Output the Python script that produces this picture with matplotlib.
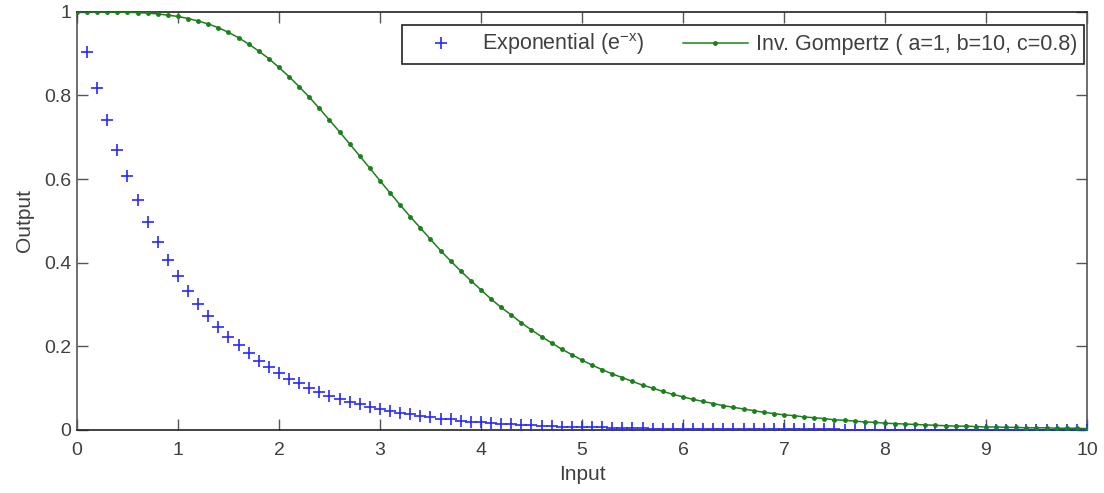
import matplotlib
matplotlib.use("Agg")
import matplotlib.pyplot as plt

# ── Data ──────────────────────────────────────────────────────────────────────

x_input = [
    0.0, 0.1, 0.2, 0.3, 0.4, 0.5, 0.6, 0.7, 0.8, 0.9,
    1.0, 1.1, 1.2, 1.3, 1.4, 1.5, 1.6, 1.7, 1.8, 1.9,
    2.0, 2.1, 2.2, 2.3, 2.4, 2.5, 2.6, 2.7, 2.8, 2.9,
    3.0, 3.1, 3.2, 3.3, 3.4, 3.5, 3.6, 3.7, 3.8, 3.9,
    4.0, 4.1, 4.2, 4.3, 4.4, 4.5, 4.6, 4.7, 4.8, 4.9,
    5.0, 5.1, 5.2, 5.3, 5.4, 5.5, 5.6, 5.7, 5.8, 5.9,
    6.0, 6.1, 6.2, 6.3, 6.4, 6.5, 6.6, 6.7, 6.8, 6.9,
    7.0, 7.1, 7.2, 7.3, 7.4, 7.5, 7.6, 7.7, 7.8, 7.9,
    8.0, 8.1, 8.2, 8.3, 8.4, 8.5, 8.6, 8.7, 8.8, 8.9,
    9.0, 9.1, 9.2, 9.3, 9.4, 9.5, 9.6, 9.7, 9.8, 9.9,
    10.0,
]

exponential = [
    1.000, 0.905, 0.819, 0.741, 0.670, 0.607, 0.549, 0.497, 0.449, 0.407,
    0.368, 0.333, 0.301, 0.273, 0.247, 0.223, 0.202, 0.183, 0.165, 0.150,
    0.135, 0.122, 0.111, 0.100, 0.091, 0.082, 0.074, 0.067, 0.061, 0.055,
    0.050, 0.045, 0.041, 0.037, 0.033, 0.030, 0.027, 0.025, 0.022, 0.020,
    0.018, 0.017, 0.015, 0.014, 0.012, 0.011, 0.010, 0.009, 0.008, 0.007,
    0.007, 0.006, 0.006, 0.005, 0.005, 0.004, 0.004, 0.003, 0.003, 0.003,
    0.002, 0.002, 0.002, 0.002, 0.002, 0.002, 0.001, 0.001, 0.001, 0.001,
    0.001, 0.001, 0.001, 0.001, 0.001, 0.001, 0.000, 0.000, 0.000, 0.000,
    0.000, 0.000, 0.000, 0.000, 0.000, 0.000, 0.000, 0.000, 0.000, 0.000,
    0.000, 0.000, 0.000, 0.000, 0.000, 0.000, 0.000, 0.000, 0.000, 0.000,
    0.000,
]

inv_gompertz = [
    1.000, 1.000, 1.000, 1.000, 0.999, 0.999, 0.998, 0.997, 0.995, 0.992,
    0.989, 0.984, 0.978, 0.971, 0.962, 0.951, 0.938, 0.923, 0.906, 0.888,
    0.867, 0.845, 0.821, 0.796, 0.769, 0.741, 0.713, 0.684, 0.655, 0.626,
    0.596, 0.567, 0.538, 0.510, 0.483, 0.456, 0.429, 0.404, 0.380, 0.357,
    0.335, 0.313, 0.293, 0.275, 0.256, 0.239, 0.223, 0.208, 0.193, 0.180,
    0.167, 0.155, 0.144, 0.134, 0.125, 0.116, 0.107, 0.100, 0.092, 0.085,
    0.079, 0.073, 0.068, 0.063, 0.058, 0.054, 0.050, 0.046, 0.042, 0.039,
    0.036, 0.034, 0.031, 0.029, 0.027, 0.024, 0.023, 0.021, 0.019, 0.018,
    0.016, 0.015, 0.014, 0.013, 0.012, 0.011, 0.010, 0.009, 0.009, 0.008,
    0.007, 0.007, 0.006, 0.006, 0.005, 0.005, 0.005, 0.004, 0.004, 0.004,
    0.003,
]

x_ticks = [0, 1, 2, 3, 4, 5, 6, 7, 8, 9, 10]
y_ticks = [0, 0.2, 0.4, 0.6, 0.8, 1]
y_tick_labels = ["0", "0.2", "0.4", "0.6", "0.8", "1"]

# ── Style ─────────────────────────────────────────────────────────────────────

TEXT_COLOR = "#404040"
AXIS_COLOR = "#555555"
BLUE = "#2828ff"
GREEN = "#1b801b"

plt.rcParams["font.family"] = ["Liberation Sans", "DejaVu Sans"]
plt.rcParams["mathtext.fontset"] = "custom"
plt.rcParams["mathtext.rm"] = "Liberation Sans"
plt.rcParams["mathtext.it"] = "Liberation Sans"

fig = plt.figure(figsize=(11.04, 4.93), dpi=100)
ax = fig.add_axes([0.0697, 0.128, 0.9149, 0.848])

ax.plot(x_input, exponential, linestyle="none", marker="+",
        markersize=9, markeredgewidth=1.2, color=BLUE,
        label=r"Exponential (e$^{\mathrm{-x}}$)", zorder=3)
ax.plot(x_input, inv_gompertz, color=GREEN, linewidth=1.1,
        marker=".", markersize=5, label="Inv. Gompertz ( a=1, b=10, c=0.8)",
        zorder=4)

ax.set_xlim(0, 10)
ax.set_ylim(0, 1)
ax.set_xticks(x_ticks)
ax.set_yticks(y_ticks)
ax.set_yticklabels(y_tick_labels)
ax.tick_params(direction="in", top=True, right=True, length=8, width=1.0,
               colors=AXIS_COLOR, labelcolor=TEXT_COLOR, labelsize=14)
ax.tick_params(axis="x", pad=9)
ax.tick_params(axis="y", pad=4)
for spine in ax.spines.values():
    spine.set_edgecolor(AXIS_COLOR)
    spine.set_linewidth(1.2)
ax.spines["top"].set_edgecolor("#222222")
ax.spines["bottom"].set_edgecolor("#222222")

ax.set_xlabel("Input", color=TEXT_COLOR, fontsize=15, labelpad=4)
ax.set_ylabel("Output", color=TEXT_COLOR, fontsize=15, labelpad=7)

leg = ax.legend(loc="upper right", bbox_to_anchor=(0.997, 0.969), ncol=2,
                fontsize=15.5, frameon=True, fancybox=False, edgecolor="#222222",
                framealpha=1, handlelength=3.0, columnspacing=1.8,
                borderpad=0.3, handletextpad=0.4, borderaxespad=0)
leg.get_frame().set_linewidth(1.2)
for t in leg.get_texts():
    t.set_color(TEXT_COLOR)

fig.savefig("out.png", dpi=100, facecolor="white")
